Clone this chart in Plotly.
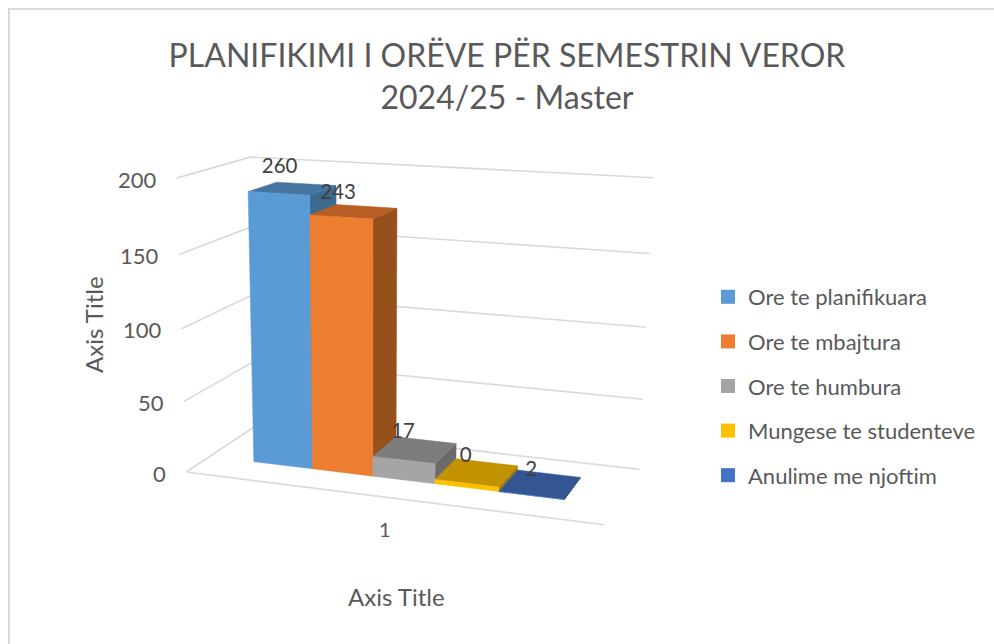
import numpy as np
import plotly.graph_objects as go

# ---- data ----
series_names = ["Ore te planifikuara", "Ore te mbajtura", "Ore te humbura",
                "Mungese te studenteve", "Anulime me njoftim"]
drawn_heights = [188, 175, 14, 3, 0]          # bar heights read against the value axis
value_labels = ["260", "243", "17", "0", "2"]  # data labels printed on the chart
value_ticks = [0, 50, 100, 150, 200]
category_label = "1"
front_colors = ["#5B9BD5", "#ED7D31", "#A5A5A5", "#FFC000", "#4472C4"]
top_colors = ["#44749F", "#B85E25", "#7C7C7C", "#C29200", "#335693"]
side_colors = ["#3D6A91", "#96501C", "#6A6A6A", "#A67C00", "#2B4A80"]

# ---- 3D -> canvas projection, calibrated on the frame of the chart box ----
VMAX = 200.0
frame_world = [(0, 0, 0), (1, 0, 0), (1, 1, 0), (0, 1, 0), (0, 0, 1), (0, 1, 1), (1, 1, 1)]
frame_canvas = [(188, 471), (604, 526), (640, 468), (254, 427), (175, 178), (252, 157), (653, 178)]
A, b = [], []
for (X, D, V), (u, v) in zip(frame_world, frame_canvas):
    A.append([X, D, V, 1, 0, 0, 0, 0, -u * X, -u * D, -u * V]); b.append(u)
    A.append([0, 0, 0, 0, X, D, V, 1, -v * X, -v * D, -v * V]); b.append(v)
h = np.linalg.lstsq(np.array(A, float), np.array(b, float), rcond=None)[0]
P = np.append(h, 1.0).reshape(3, 4)


def proj(x, d, value):
    q = P @ np.array([x, d, value / VMAX, 1.0])
    return q[0] / q[2], q[1] / q[2]


def poly(corners):
    pts = [proj(*c) for c in corners]
    pts.append(pts[0])
    return [p[0] for p in pts], [p[1] for p in pts]


fig = go.Figure()

# ---- gridlines ----
gx, gy = [], []
for t in value_ticks:
    for c in [(0, 0, t), (0, 1, t), (1, 1, t)]:
        x, y = proj(*c)
        gx.append(x); gy.append(y)
    gx.append(None); gy.append(None)
for c in [(0, 0, 0), (1, 0, 0)]:
    x, y = proj(*c)
    gx.append(x); gy.append(y)
fig.add_trace(go.Scatter(x=gx, y=gy, mode="lines", line=dict(color="#D9D9D9", width=1.6),
                         showlegend=False, hoverinfo="skip"))

# ---- bars ----
X0, X1, D0, D1 = 0.117, 0.882, 0.32, 0.73
w = (X1 - X0) / len(drawn_heights)
label_dx = [-13, -16, -12, -11, -9]
label_dy = [-21, -18, -17, -16, -13]
lx, ly = [], []
for i, val in enumerate(drawn_heights):
    a, c = X0 + i * w, X0 + (i + 1) * w
    faces = [
        ([(c, D0, 0), (c, D1, 0), (c, D1, val), (c, D0, val)], side_colors[i]),
        ([(a, D0, val), (c, D0, val), (c, D1, val), (a, D1, val)], top_colors[i]),
        ([(a, D0, 0), (c, D0, 0), (c, D0, val), (a, D0, val)], front_colors[i]),
    ]
    for corners, col in faces:
        px, py = poly(corners)
        fig.add_trace(go.Scatter(x=px, y=py, mode="lines", fill="toself", fillcolor=col,
                                 line=dict(color=col, width=0.5), showlegend=False,
                                 name=series_names[i], hoverinfo="skip"))
    tx, ty = proj((a + c) / 2, (D0 + D1) / 2, val)
    lx.append(tx + label_dx[i]); ly.append(ty + label_dy[i])

# ---- data labels ----
fig.add_trace(go.Scatter(x=lx, y=ly, mode="text", text=value_labels, showlegend=False,
                         textfont=dict(family="Lato", size=20.5, color="#404040"), hoverinfo="skip"))

# ---- legend entries ----
for i, name in enumerate(series_names):
    fig.add_trace(go.Scatter(x=[None], y=[None], mode="markers", name=name, legendgroup=name,
                             marker=dict(symbol="square", size=14, color=front_colors[i])))

# ---- tick / axis texts ----
ann = []
for t in value_ticks:
    x, y = proj(0, 0, t)
    ann.append(dict(x=x - 18, y=y + 1, text=str(t), xanchor="right", yanchor="middle", showarrow=False,
                    font=dict(family="Lato", size=22, color="#595959")))
cx, cy = proj(0.5, 0, 0)
ann.append(dict(x=cx, y=cy + 32, text=category_label, showarrow=False,
                font=dict(family="Lato", size=20, color="#595959")))
ann.append(dict(x=396, y=596, text="Axis Title", showarrow=False,
                font=dict(family="Lato", size=24, color="#595959")))
ann.append(dict(x=93, y=325, text="Axis Title", textangle=-90, showarrow=False,
                font=dict(family="Lato", size=24, color="#595959")))

fig.update_layout(
    width=994, height=644, margin=dict(l=0, r=0, t=0, b=0),
    paper_bgcolor="white", plot_bgcolor="white",
    xaxis=dict(range=[0, 994], visible=False, fixedrange=True),
    yaxis=dict(range=[644, 0], visible=False, fixedrange=True),
    title=dict(text="PLANIFIKIMI I ORËVE PËR SEMESTRIN VEROR<br>2024/25 - Master",
               x=507 / 994, xanchor="center", y=1 - 67 / 644, yanchor="middle",
               font=dict(family="Lato", size=32, color="#595959")),
    legend=dict(x=708 / 994, y=1 - 276 / 644, xanchor="left", yanchor="top",
                font=dict(family="Lato", size=22, color="#595959"),
                tracegroupgap=13, bgcolor="rgba(0,0,0,0)"),
    annotations=ann,
    shapes=[dict(type="rect", xref="x", yref="y", x0=9, y0=9, x1=1010, y1=660,
                 line=dict(color="#D9D9D9", width=2), layer="below")],
)
fig.write_html("out.html", config={"displayModeBar": False},
               post_script="document.body.style.margin='0';")
